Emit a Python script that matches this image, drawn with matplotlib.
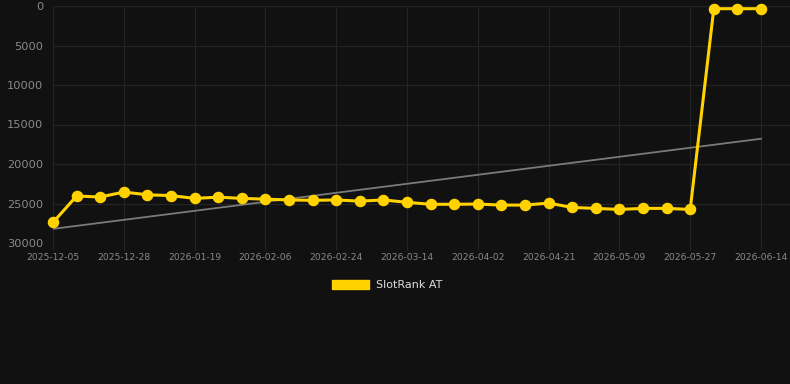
import numpy as np
import matplotlib.pyplot as plt
from matplotlib.patches import Patch

# category axis: one point per snapshot, labels every third one
dates = ['2025-12-05', '2025-12-13', '2025-12-20', '2025-12-28', '2026-01-04',
         '2026-01-12', '2026-01-19', '2026-01-25', '2026-01-31', '2026-02-06',
         '2026-02-12', '2026-02-18', '2026-02-24', '2026-03-02', '2026-03-08',
         '2026-03-14', '2026-03-20', '2026-03-27', '2026-04-02', '2026-04-08',
         '2026-04-15', '2026-04-21', '2026-04-27', '2026-05-03', '2026-05-09',
         '2026-05-15', '2026-05-21', '2026-05-27', '2026-06-02', '2026-06-08',
         '2026-06-14']
rank = [27400, 24050, 24180, 23550, 23900, 24000, 24350, 24200, 24350, 24450,
        24550, 24600, 24550, 24700, 24550, 24850, 25100, 25100, 25070, 25200,
        25200, 24950, 25500, 25620, 25750, 25620, 25620, 25750, 340, 340, 340]
series_name = 'SlotRank AT'

bg = '#111111'
gold = '#ffd200'
grid_c = '#242424'
tick_c = '#8a8a8a'

fig = plt.figure(figsize=(7.9, 3.84), dpi=100, facecolor=bg)
ax = fig.add_axes([53/790, (384-243)/384, 1 - 53/790, (243-6)/384])
ax.set_facecolor(bg)

x = np.arange(len(rank))
ax.plot(x, rank, color=gold, lw=2.2, marker='o', ms=7.3, mec=gold, mfc=gold,
        clip_on=False, zorder=3)

# linear trend through the series
k, b = np.polyfit(x, rank, 1)
ax.plot(x, k*x + b, color='#7a7a7a', lw=1.3, zorder=2)

ax.set_ylim(30000, 0)
ax.set_xlim(0, len(rank) - 1 + 29/23.6)
ax.set_yticks(range(0, 30001, 5000))
ax.set_xticks(x[::3])
ax.set_xticklabels(dates[::3])

ax.grid(True, color=grid_c, lw=0.8)
for s in ax.spines.values():
    s.set_visible(False)
ax.tick_params(axis='y', colors=tick_c, labelsize=8.2, length=0, pad=7)
ax.tick_params(axis='x', colors=tick_c, labelsize=6.6, length=5, color=grid_c, pad=2)
for t in ax.get_yticklabels():
    t.set_color(tick_c)

leg = fig.legend(handles=[Patch(facecolor=gold, edgecolor=gold, label=series_name)],
                 loc='center', bbox_to_anchor=(0.49, (384-285)/384), frameon=False,
                 handlelength=3.4, handleheight=0.95, handletextpad=0.6, fontsize=8)
for t in leg.get_texts():
    t.set_color('#dddddd')

fig.savefig('out.png', dpi=100, facecolor=bg)
